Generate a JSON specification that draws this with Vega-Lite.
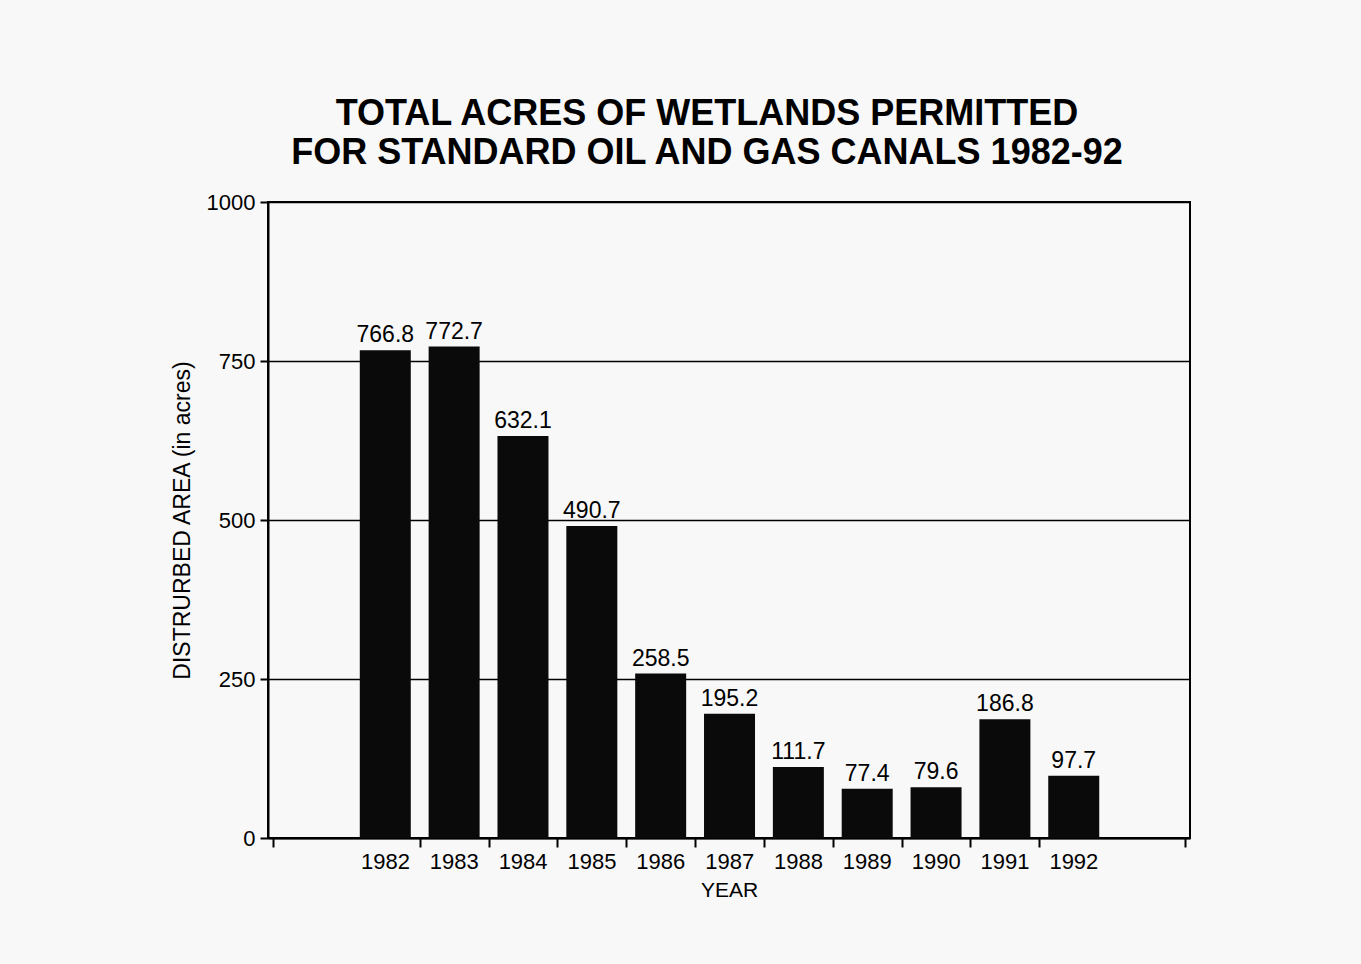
{
  "$schema": "https://vega.github.io/schema/vega-lite/v6.json",
  "autosize": {"type": "none"},
  "width": 922,
  "height": 636,
  "padding": {"left": 268, "top": 202, "right": 171, "bottom": 126},
  "background": "#f8f8f8",
  "title": {
    "text": ["TOTAL ACRES OF WETLANDS PERMITTED", "FOR STANDARD OIL AND GAS CANALS 1982-92"],
    "font": "Liberation Sans",
    "fontSize": 36,
    "fontWeight": "bold",
    "lineHeight": 39,
    "color": "#000000",
    "anchor": "middle",
    "dx": -22,
    "offset": 19
  },
  "data": {
    "values": [
      {"year": 1982, "acres": 766.8},
      {"year": 1983, "acres": 772.7},
      {"year": 1984, "acres": 632.1},
      {"year": 1985, "acres": 490.7},
      {"year": 1986, "acres": 258.5},
      {"year": 1987, "acres": 195.2},
      {"year": 1988, "acres": 111.7},
      {"year": 1989, "acres": 77.4},
      {"year": 1990, "acres": 79.6},
      {"year": 1991, "acres": 186.8},
      {"year": 1992, "acres": 97.7}
    ]
  },
  "encoding": {
    "x": {
      "field": "year",
      "type": "quantitative",
      "scale": {"domain": [1980.369, 1993.616], "nice": false, "zero": false},
      "axis": {
        "title": "YEAR",
        "values": [1980.369, 1982.5, 1983.5, 1984.5, 1985.5, 1986.5, 1987.5, 1988.5, 1989.5, 1990.5, 1991.5, 1992.5, 1993.616],
        "labelExpr": "datum.value < 1982 || datum.value > 1993 ? '' : format(datum.value - 0.5, 'd')",
        "labelOffset": -34.8,
        "labelFlush": false,
        "labelOverlap": false,
        "tickOpacity": {"condition": {"test": "datum.value == 1992.5", "value": 0}, "value": 1},
        "grid": false,
        "tickSize": 9,
        "tickWidth": 2,
        "tickColor": "#000000",
        "domainColor": "#000000",
        "domainWidth": 2,
        "labelFont": "Liberation Sans",
        "labelFontSize": 22,
        "labelColor": "#000000",
        "labelPadding": 4,
        "titleFont": "Liberation Sans",
        "titleFontSize": 21,
        "titleFontWeight": "normal",
        "titleColor": "#000000",
        "titlePadding": 7
      }
    },
    "y": {
      "field": "acres",
      "type": "quantitative",
      "scale": {"domain": [0, 1000], "nice": false},
      "axis": {
        "title": "DISTRURBED AREA (in acres)",
        "values": [0, 250, 500, 750, 1000],
        "format": "d",
        "grid": true,
        "gridColor": "#000000",
        "gridWidth": 1.6,
        "tickSize": 8,
        "tickWidth": 2,
        "tickColor": "#000000",
        "domainColor": "#000000",
        "domainWidth": 2,
        "labelFont": "Liberation Sans",
        "labelFontSize": 22,
        "labelColor": "#000000",
        "labelPadding": 5,
        "titleFont": "Liberation Sans",
        "titleFontSize": 23,
        "titleFontWeight": "normal",
        "titleColor": "#000000",
        "titlePadding": 12
      }
    }
  },
  "layer": [
    {
      "mark": {"type": "bar", "width": 51, "color": "#0a0a0a"}
    },
    {
      "mark": {
        "type": "text",
        "baseline": "alphabetic",
        "align": "center",
        "dy": -8,
        "font": "Liberation Sans",
        "fontSize": 23,
        "color": "#000000"
      },
      "encoding": {
        "text": {"field": "acres", "type": "quantitative", "format": ".1f"}
      }
    }
  ],
  "config": {
    "view": {"stroke": "#000000", "strokeWidth": 2}
  }
}
